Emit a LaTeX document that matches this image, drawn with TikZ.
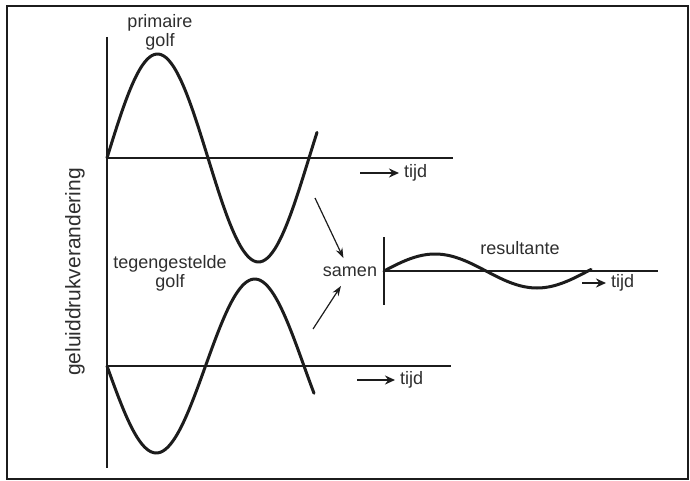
\documentclass[tikz,border=0pt]{standalone}
\usepackage{fontspec}
\setmainfont{Liberation Sans}
\usetikzlibrary{arrows.meta,positioning}
\definecolor{ink}{HTML}{1C1C1C}
\definecolor{inkgray}{HTML}{2E2E2E}
\tikzset{
  kader/.style={draw=ink,line width=1.5pt},
  asline/.style={draw=ink,line width=1.4pt},
  golf/.style={draw=ink,line width=3pt,line cap=round},
  tekst/.style={text=inkgray,align=center,inner sep=0pt,
                font=\fontsize{18}{19}\selectfont},
  tijdarr/.style={-{Stealth[length=10pt,width=9pt]},line width=2.2pt,draw=ink},
  samenarr/.style={-{Stealth[length=10pt,width=7pt]},line width=1.2pt,draw=ink}
}

\begin{document}
\begin{tikzpicture}[x=1pt,y=-1pt]
  \useasboundingbox (0,0) rectangle (690,481);
  \draw[kader] (7,6) rectangle (688,479);

  % assen
  \coordinate (o1) at (107,158);
  \coordinate (o2) at (107,366);
  \coordinate (o3) at (384,271);
  \draw[asline] (107,37) -- (107,468);
  \draw[asline] (o1) -- (453,158);
  \draw[asline] (o2) -- (451,366);
  \draw[asline] (384,237) -- (384,305);
  \draw[asline] (o3) -- (658,271);

  % golven
  \draw[golf] plot[domain=107:317,samples=90,smooth]
    (\x,{158-104*sin((\x-107)/202*360)});
  \draw[golf] plot[domain=107:314,samples=90,smooth]
    (\x,{366+87*sin((\x-107)/197*360)});
  \draw[golf] plot[domain=384:591,samples=70,smooth]
    (\x,{271-17*sin((\x-384)/204*360)});

  % teksten
  \node[tekst] (prim) at (160,32) {primaire\\golf};
  \node[tekst] (tegen) at (170,273) {tegengestelde\\golf};
  \node[tekst,outer xsep=2pt,outer ysep=9pt] (samen) at (350,272) {samen};
  \node[tekst] (result) at (520,248) {resultante};
  \node[tekst,rotate=90,font=\fontsize{21}{21}\selectfont] (druk) at (75,272)
    {geluiddrukverandering};

  \node[tekst,anchor=west,inner xsep=5pt] (tijd1) at (399,173) {tijd};
  \node[tekst,anchor=west,inner xsep=5pt] (tijd2) at (395,380) {tijd};
  \node[tekst,anchor=west,inner xsep=5pt] (tijd3) at (606,283) {tijd};

  % pijlen
  \coordinate (t1) at (360,173);
  \coordinate (t2) at (357,380);
  \coordinate (t3) at (582,283);
  \draw[tijdarr] (t1) -- (tijd1.west);
  \draw[tijdarr] (t2) -- (tijd2.west);
  \draw[tijdarr] (t3) -- (tijd3.west);

  \coordinate (s1) at (315,198);
  \coordinate (s2) at (313,329);
  \draw[samenarr] (s1) -- (samen);
  \draw[samenarr] (s2) -- (samen);
\end{tikzpicture}
\end{document}
